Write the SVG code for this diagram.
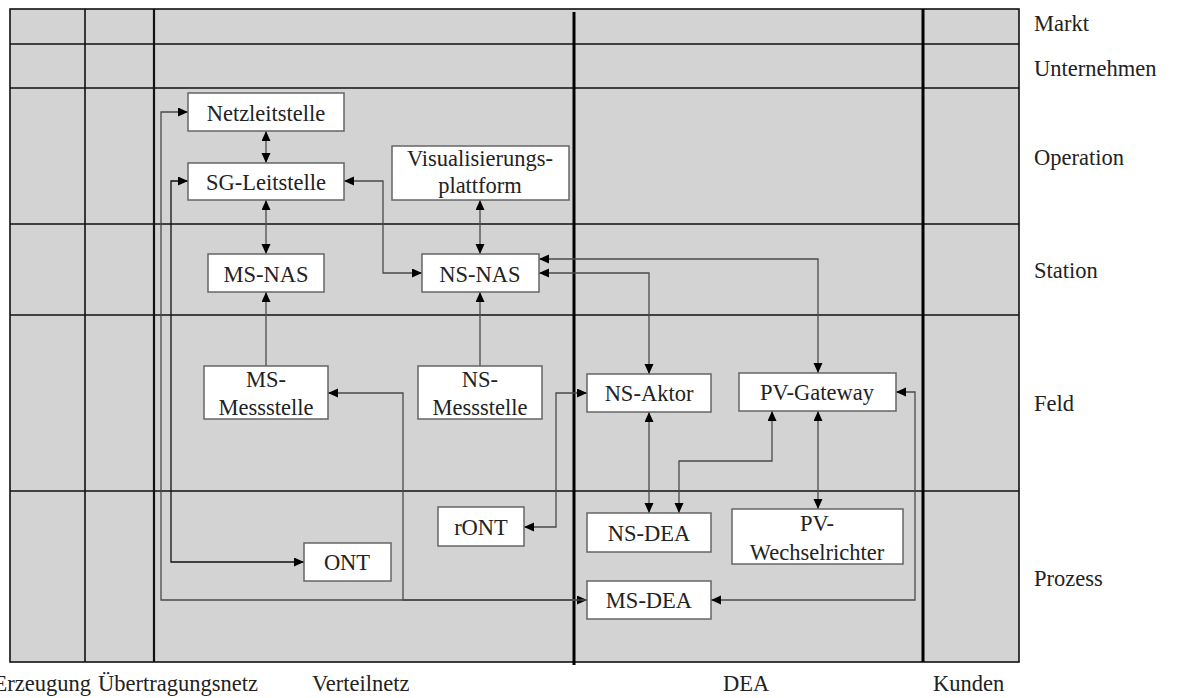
<svg xmlns="http://www.w3.org/2000/svg" width="1177" height="698" viewBox="0 0 1177 698">
  <style>
    .grid { stroke: #111; stroke-width: 1.6; fill: none; }
    .frame { fill: #d3d3d3; stroke: #111; stroke-width: 1.6; }
    .thick { stroke: #000; stroke-width: 3; }
    .mid { stroke: #111; stroke-width: 2.2; }
    .node rect { fill: #fff; stroke: #666; stroke-width: 1.5; }
    .node text, .lbl { font-family: "Liberation Serif", "Times New Roman", serif; font-size: 22.5px; fill: #222; }
    .node text { text-anchor: middle; }
    .conn path { fill: none; stroke: #4a4a4a; stroke-width: 1.3; }
  </style>
  <defs>
    <marker id="ah" markerUnits="userSpaceOnUse" markerWidth="11" markerHeight="10" refX="10" refY="4.5" orient="auto-start-reverse">
      <path d="M0,0 L10,4.5 L0,9 z" fill="#000"/>
    </marker>
  </defs>

  <!-- layer / domain grid -->
  <g id="grid">
    <rect class="frame" x="10" y="9" width="1009" height="653"/>
    <line class="grid" x1="10" y1="44" x2="1019" y2="44"/>
    <line class="grid" x1="10" y1="88" x2="1019" y2="88"/>
    <line class="grid" x1="10" y1="224" x2="1019" y2="224"/>
    <line class="grid" x1="10" y1="315" x2="1019" y2="315"/>
    <line class="grid" x1="10" y1="491" x2="1019" y2="491"/>
    <line class="grid" x1="85" y1="9" x2="85" y2="662"/>
    <line class="mid" x1="154" y1="9" x2="154" y2="662"/>
    <line class="thick" x1="574" y1="12" x2="574" y2="665"/>
    <line class="thick" x1="923" y1="9" x2="923" y2="662"/>
  </g>

  <!-- zone labels (right) -->
  <g id="zones">
    <text class="lbl" x="1034" y="31">Markt</text>
    <text class="lbl" x="1034" y="76">Unternehmen</text>
    <text class="lbl" x="1034" y="165">Operation</text>
    <text class="lbl" x="1034" y="278">Station</text>
    <text class="lbl" x="1034" y="411">Feld</text>
    <text class="lbl" x="1034" y="586">Prozess</text>
  </g>

  <!-- domain labels (bottom) -->
  <g id="domains">
    <text class="lbl" x="91" y="691" text-anchor="end">Erzeugung</text>
    <text class="lbl" x="98" y="691">Übertragungsnetz</text>
    <text class="lbl" x="312" y="691">Verteilnetz</text>
    <text class="lbl" x="723" y="691">DEA</text>
    <text class="lbl" x="933" y="691">Kunden</text>
  </g>

  <!-- connectors -->
  <g id="connectors" class="conn">
    <path d="M266,131 V163" marker-start="url(#ah)" marker-end="url(#ah)"/>
    <path d="M266,200 V254" marker-start="url(#ah)" marker-end="url(#ah)"/>
    <path d="M188,112 H161 V600 H587" marker-start="url(#ah)" marker-end="url(#ah)"/>
    <path d="M188,181 H171 V562 H304" marker-start="url(#ah)" marker-end="url(#ah)" style="stroke:#111"/>
    <path d="M344,181 H383 V273 H422" marker-start="url(#ah)" marker-end="url(#ah)"/>
    <path d="M480,200 V254" marker-start="url(#ah)" marker-end="url(#ah)"/>
    <path d="M266,366 V292" marker-end="url(#ah)"/>
    <path d="M480,366 V292" marker-end="url(#ah)"/>
    <path d="M539,259 H818 V373" marker-start="url(#ah)" marker-end="url(#ah)"/>
    <path d="M539,273 H649 V374" marker-start="url(#ah)" marker-end="url(#ah)"/>
    <path d="M649,412 V513" marker-start="url(#ah)" marker-end="url(#ah)"/>
    <path d="M679,513 V461 H772 V411" marker-start="url(#ah)" marker-end="url(#ah)"/>
    <path d="M818,411 V509" marker-start="url(#ah)" marker-end="url(#ah)"/>
    <path d="M896,392 H915 V600 H711" marker-start="url(#ah)" marker-end="url(#ah)"/>
    <path d="M587,393 H556 V527 H524" marker-start="url(#ah)" marker-end="url(#ah)"/>
    <path d="M328,393 H403 V600 H587" marker-start="url(#ah)"/>
  </g>

  <!-- nodes -->
  <g id="netzleitstelle" class="node">
    <rect x="188" y="93" width="156" height="38"/>
    <text x="266" y="121">Netzleitstelle</text>
  </g>
  <g id="sg-leitstelle" class="node">
    <rect x="188" y="163" width="156" height="37"/>
    <text x="266" y="190">SG-Leitstelle</text>
  </g>
  <g id="visualisierungsplattform" class="node">
    <rect x="392" y="146" width="177" height="54"/>
    <text x="480" y="166">Visualisierungs-</text>
    <text x="480" y="193">plattform</text>
  </g>
  <g id="ms-nas" class="node">
    <rect x="208" y="254" width="116" height="38"/>
    <text x="266" y="282">MS-NAS</text>
  </g>
  <g id="ns-nas" class="node">
    <rect x="422" y="254" width="117" height="38"/>
    <text x="480" y="282">NS-NAS</text>
  </g>
  <g id="ms-messstelle" class="node">
    <rect x="204" y="366" width="124" height="53"/>
    <text x="266" y="387">MS-</text>
    <text x="266" y="415">Messstelle</text>
  </g>
  <g id="ns-messstelle" class="node">
    <rect x="418" y="366" width="124" height="53"/>
    <text x="480" y="387">NS-</text>
    <text x="480" y="415">Messstelle</text>
  </g>
  <g id="ns-aktor" class="node">
    <rect x="587" y="374" width="124" height="38"/>
    <text x="649" y="401">NS-Aktor</text>
  </g>
  <g id="pv-gateway" class="node">
    <rect x="739" y="373" width="157" height="38"/>
    <text x="817" y="400">PV-Gateway</text>
  </g>
  <g id="ront" class="node">
    <rect x="438" y="507" width="86" height="39"/>
    <text x="481" y="535">rONT</text>
  </g>
  <g id="ns-dea" class="node">
    <rect x="587" y="513" width="124" height="39"/>
    <text x="649" y="541">NS-DEA</text>
  </g>
  <g id="pv-wechselrichter" class="node">
    <rect x="732" y="509" width="171" height="55"/>
    <text x="817" y="531">PV-</text>
    <text x="817" y="560">Wechselrichter</text>
  </g>
  <g id="ont" class="node">
    <rect x="304" y="543" width="87" height="38"/>
    <text x="347" y="570">ONT</text>
  </g>
  <g id="ms-dea" class="node">
    <rect x="587" y="581" width="124" height="38"/>
    <text x="649" y="608">MS-DEA</text>
  </g>
</svg>
